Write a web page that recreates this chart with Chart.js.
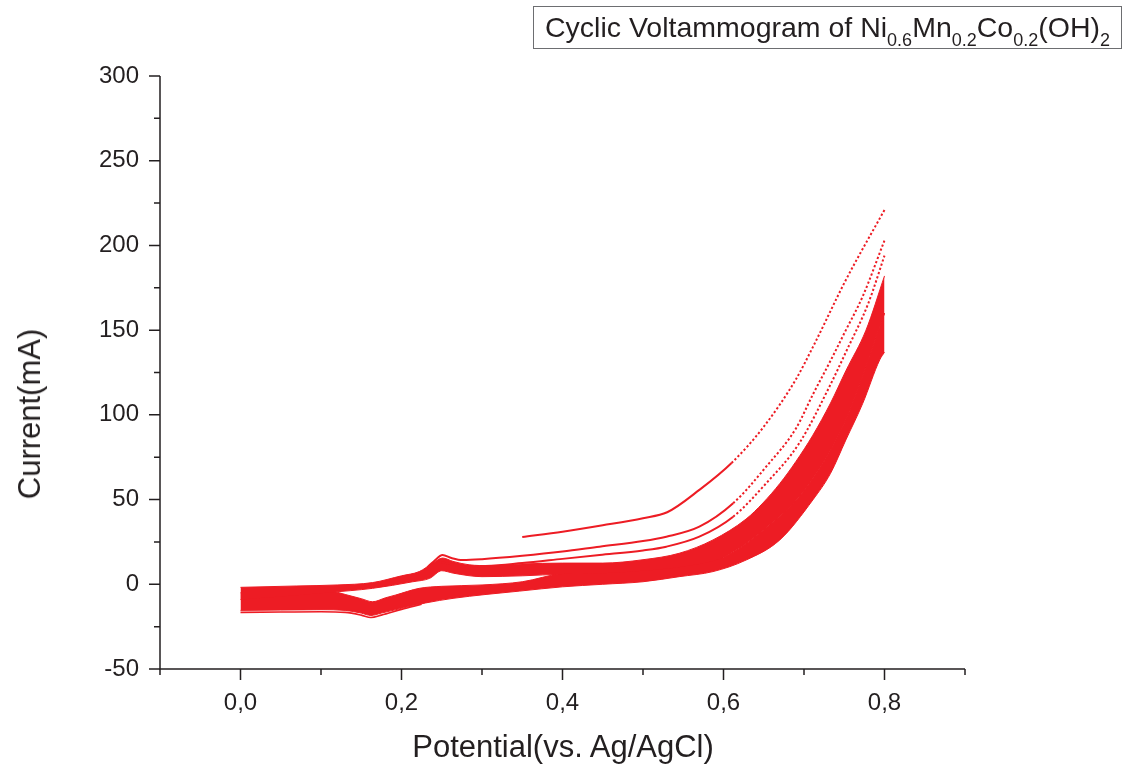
<!DOCTYPE html>
<html>
<head>
<meta charset="utf-8">
<script src="https://cdn.jsdelivr.net/npm/chart.js@4.4.1/dist/chart.umd.min.js"></script>
<style>
  html, body { margin: 0; padding: 0; background: #ffffff; }
  #wrap { position: relative; width: 1128px; height: 767px; overflow: hidden; font-family: "Liberation Sans", Arial, sans-serif; color: #231f20; }
  #c { position: absolute; left: 0; top: 0; }
  .titlebox { position: absolute; left: 533px; top: 6px; width: 587px; height: 41px; border: 1px solid #6d6e71; box-sizing: content-box; font-size: 28.5px; line-height: 41px; text-align: center; white-space: nowrap; }
  .titlebox sub { font-size: 18px; vertical-align: -9px; line-height: 0; }
  .ytitle { position: absolute; left: 30px; top: 414px; transform: translate(-50%, -50%) rotate(-90deg); font-size: 31px; white-space: nowrap; }
  .xtitle { position: absolute; left: 563px; top: 747px; transform: translate(-50%, -50%); font-size: 31px; white-space: nowrap; }
</style>
</head>
<body>
<div id="wrap">
  <canvas id="c" width="1128" height="767"></canvas>
  <div class="titlebox">Cyclic Voltammogram of Ni<sub>0.6</sub>Mn<sub>0.2</sub>Co<sub>0.2</sub>(OH)<sub>2</sub></div>
  <div class="ytitle">Current(mA)</div>
  <div class="xtitle">Potential(vs. Ag/AgCl)</div>
</div>
<script>
// ---- Data (potential in V vs Ag/AgCl, current in mA) ----
// Dense band of forward (anodic) sweeps: upper and lower edges
const fwdTopV = [0.000, 0.070, 0.120, 0.164, 0.200, 0.222, 0.239, 0.251, 0.264, 0.284, 0.310, 0.350, 0.400, 0.450, 0.500, 0.545, 0.587, 0.628, 0.649, 0.670, 0.690, 0.711, 0.733, 0.752, 0.777, 0.800];
const fwdTopI = [-1.8, -1.0, -0.4, 1.0, 5.0, 7.5, 12.5, 15.5, 13.5, 11.5, 11.0, 12.0, 12.5, 12.5, 14.5, 18.3, 26.2, 38.5, 48.0, 59.5, 72.5, 88.0, 107.0, 126.0, 150.0, 182.0];
const fwdLowV = [0.000, 0.110, 0.164, 0.214, 0.235, 0.250, 0.265, 0.300, 0.350, 0.400, 0.450, 0.500, 0.550, 0.600, 0.650, 0.700, 0.750, 0.800];
const fwdLowI = [-9.0, -4.8, -2.4, 1.5, 3.5, 8.0, 6.5, 4.5, 5.0, 6.0, 6.5, 8.0, 10.5, 16.0, 32.0, 55.0, 95.0, 160.0];
// Dense band of reverse (cathodic) sweeps: upper and lower edges
const revTopV = [0.000, 0.115, 0.130, 0.150, 0.164, 0.180, 0.193, 0.222, 0.250, 0.300, 0.350, 0.400, 0.450, 0.500, 0.550, 0.600, 0.650, 0.700, 0.750, 0.800];
const revTopI = [-5.0, -4.4, -6.0, -8.5, -10.3, -8.0, -6.3, -2.4, -1.2, -0.4, 1.5, 6.5, 7.5, 9.0, 12.0, 16.0, 32.0, 55.0, 95.0, 160.0];
const revLowV = [0.000, 0.050, 0.100, 0.130, 0.150, 0.162, 0.175, 0.200, 0.230, 0.264, 0.305, 0.347, 0.400, 0.450, 0.500, 0.545, 0.587, 0.628, 0.670, 0.711, 0.733, 0.752, 0.773, 0.794, 0.800];
const revLowI = [-15.4, -15.2, -15.0, -15.4, -17.0, -18.4, -17.0, -14.2, -11.0, -8.3, -6.0, -4.0, -1.5, 0.0, 1.5, 4.5, 7.5, 14.3, 26.2, 49.8, 65.5, 85.2, 106.8, 132.4, 137.0];
// Outermost cathodic trace
const outerCathV = [0.000, 0.050, 0.100, 0.130, 0.150, 0.162, 0.175, 0.200, 0.225];
const outerCathI = [-16.6, -16.4, -16.2, -16.6, -18.2, -19.6, -18.2, -14.8, -11.8];
// First sweep (starting at 0.35 V)
const cycle1V = [0.350, 0.400, 0.450, 0.500, 0.530, 0.570, 0.610, 0.650, 0.690, 0.711, 0.752, 0.800];
const cycle1I = [27.9, 31.0, 34.8, 39.0, 42.5, 55.7, 71.6, 93.0, 121.0, 140.0, 179.6, 221.0];
// Early forward sweeps visible above the band
const cycle2V = [0.232, 0.240, 0.251, 0.262, 0.276, 0.300, 0.350, 0.400, 0.446, 0.500, 0.529, 0.570, 0.612, 0.653, 0.690, 0.711, 0.733, 0.752, 0.773, 0.800];
const cycle2I = [10.0, 13.5, 17.3, 15.5, 14.3, 14.8, 16.8, 19.3, 22.2, 25.5, 28.1, 34.0, 47.8, 69.4, 92.0, 112.0, 132.0, 150.0, 170.0, 203.0];
const cycle3V = [0.250, 0.265, 0.280, 0.350, 0.400, 0.446, 0.500, 0.529, 0.570, 0.612, 0.653, 0.694, 0.733, 0.752, 0.780, 0.800];
const cycle3I = [13.0, 11.5, 10.4, 12.5, 15.0, 17.3, 20.0, 22.2, 28.1, 39.9, 59.6, 83.2, 118.0, 137.0, 166.0, 194.0];
// Axis settings
const xMin = -0.1, xMax = 0.9, yMin = -50, yMax = 300;

const RED = '#ED1C24';
const INK = '#231f20';
const FONT = '"Liberation Sans", Arial, sans-serif';
const pts = (vs, is) => vs.map((v, i) => ({x: v, y: is[i]}));
const dotted = { borderDash: c => (c.p0.parsed.x >= 0.6 ? [2.2, 2.2] : undefined) };

const bandEdge = (data, fill) => ({
  data, fill, borderColor: RED, backgroundColor: RED, borderWidth: 1,
  pointRadius: 0, cubicInterpolationMode: 'monotone'
});
const trace = (data, width, seg) => ({
  data, fill: false, borderColor: RED, borderWidth: width,
  pointRadius: 0, cubicInterpolationMode: 'monotone', segment: seg
});

const axesPlugin = {
  id: 'axesTicks',
  afterDraw(chart) {
    const {ctx, chartArea: a, scales: {x, y}} = chart;
    ctx.save();
    ctx.strokeStyle = INK;
    ctx.lineWidth = 1.5;
    ctx.beginPath();
    ctx.moveTo(a.left, a.top);
    ctx.lineTo(a.left, a.bottom);
    ctx.lineTo(a.right, a.bottom);
    ctx.stroke();
    ctx.beginPath();
    for (let k = -1; k <= 9; k++) {
      const px = x.getPixelForValue(k / 10);
      const len = (k % 2 === 0) ? 11 : 6;
      ctx.moveTo(px, a.bottom);
      ctx.lineTo(px, a.bottom + len);
    }
    for (let k = -2; k <= 12; k++) {
      const py = y.getPixelForValue(k * 25);
      const len = (k % 2 === 0) ? 11 : 6;
      ctx.moveTo(a.left, py);
      ctx.lineTo(a.left - len, py);
    }
    ctx.stroke();
    ctx.restore();
  }
};

new Chart(document.getElementById('c'), {
  type: 'line',
  data: {
    datasets: [
      trace(pts(cycle1V, cycle1I), 2, dotted),
      trace(pts(cycle2V, cycle2I), 2, dotted),
      trace(pts(cycle3V, cycle3I), 2, dotted),
      trace(pts(outerCathV, outerCathI), 1.6),
      bandEdge(pts(fwdTopV, fwdTopI), '+1'),
      bandEdge(pts(fwdLowV, fwdLowI), false),
      bandEdge(pts(revTopV, revTopI), '+1'),
      bandEdge(pts(revLowV, revLowI), false)
    ]
  },
  options: {
    responsive: false,
    animation: false,
    devicePixelRatio: 1,
    layout: { padding: { left: 0, top: 76, right: 163, bottom: 0 } },
    plugins: { legend: { display: false }, tooltip: { enabled: false } },
    scales: {
      x: {
        type: 'linear', min: xMin, max: xMax,
        grid: { display: false }, border: { display: false },
        afterFit: s => { s.height = 98; },
        ticks: {
          stepSize: 0.1, autoSkip: false, maxRotation: 0, padding: 12,
          color: INK, font: { family: FONT, size: 24 },
          callback: v => {
            const k = Math.round(v * 10);
            return (k >= 0 && k % 2 === 0) ? (k / 10).toFixed(1).replace('.', ',') : '';
          }
        }
      },
      y: {
        type: 'linear', min: yMin, max: yMax,
        grid: { display: false }, border: { display: false },
        afterFit: s => { s.width = 160; },
        ticks: {
          stepSize: 50, autoSkip: false, padding: 13,
          color: INK, font: { family: FONT, size: 24 },
          callback: v => String(v)
        }
      }
    }
  },
  plugins: [axesPlugin]
});
</script>
</body>
</html>
